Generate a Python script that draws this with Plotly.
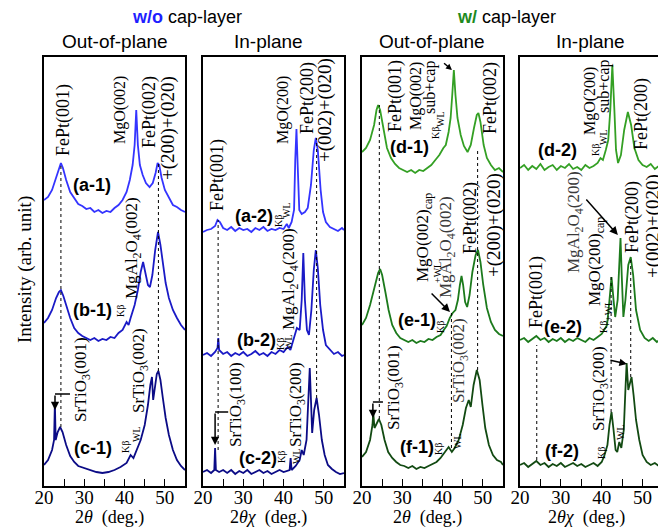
import plotly.graph_objects as go

# The page body has an 8 px default margin, so the figure is sized to fill the rest.
OFF = 8
W, H = 666, 528
FW, FH = W - OFF, H - OFF

# ---------------- data (angle in deg, intensity in arb. units) ----------------
a1_x = [20,21,22,23,23.7,24.2,24.7,25.5,26.5,27.5,28.5,29.5,30.5,31.5,32.5,33.5,34.5,35.5,36.5,37.5,38.5,39.5,40.5,41.3,42,42.5,42.9,43.3,43.8,44.5,45.3,46.2,47,47.7,48.2,48.6,49.2,50,51,52,53,54,55]
a1_y = [286,289,296,308,318,323,318,306,294,288,282,280,277,278,274,276,273,275,274,278,281,286,294,306,321,341,376,341,321,311,303,299,303,313,323,321,308,296,288,281,279,276,274]

b1_x = [20,21,22,23,23.7,24.2,24.8,25.5,26.5,27.5,28.5,29.5,30.5,31.5,32.5,33.5,34.5,35.5,36.5,37.5,38.5,39.5,40.5,41,41.5,42.5,43.3,44,44.6,45.2,45.8,46.3,46.9,47.6,48.3,48.9,49.5,50.2,51,52,53,54,55]
b1_y = [163,168,176,188,194,196,190,181,168,158,153,150,148,146,148,145,147,146,149,148,153,156,164,161,168,181,196,214,224,214,201,199,211,236,254,241,221,203,188,176,168,161,156]

c1_x = [20,21,22,22.5,22.7,22.9,23.4,24,24.6,25.5,26.5,27.5,28.5,30,31.5,33,34.5,36,37.5,39,40.5,41.5,42.2,43,44,45,45.8,46.4,46.8,47.1,47.5,48,48.4,48.9,49.5,50.2,51,52,53,54,55]
c1_y = [21,26,36,46,83,46,54,59,54,41,30,24,20,18,16,14,13,14,16,19,23,31,28,36,46,61,81,101,109,86,96,112,115,106,88,68,51,36,26,20,16]

a2_x = [20,21,22,23,23.6,24.2,25,26,27,28,29,30,31,32,33,34,35,36,37,38,39,40,40.8,41.3,42,42.6,42.9,43.2,43.5,43.9,44.5,45.3,46,46.8,47.5,48,48.5,49.2,49.8,50.5,51.5,52.5,53.5,54.5,55]
a2_y = [254,256,257,260,266,264,258,256,259,255,258,256,257,254,258,256,259,255,257,256,258,257,262,258,264,276,326,357,321,276,272,274,278,301,336,348,336,296,274,264,259,257,255,258,256]

b2_x = [20,21,22,23,23.6,23.8,24,25,26,27,28,29,30,31,32,33,34,35,36,37,38,39,40,41,41.7,42.5,43.3,44,44.5,44.9,45.3,45.8,46.3,46.9,47.5,48,48.5,49.1,49.8,50.5,51.5,52.5,53.5,54.5,55]
b2_y = [131,133,130,134,138,148,136,132,134,130,133,131,134,130,132,135,131,133,130,134,132,136,134,139,136,146,158,156,186,233,186,156,151,176,216,236,218,181,156,141,136,132,134,130,131]

c2_x = [20,21,22,22.8,23,23.2,24,25,26,27,28,29,30,31,32,33,34,35,36,37,38,39,40,41.5,41.75,42,43,44,44.5,45,45.7,46.2,46.5,46.8,47.1,47.6,48.2,48.8,49.5,50.2,51,52,53,54,55]
c2_y = [14,16,13,16,38,16,14,16,13,16,12,15,13,16,12,14,16,13,15,12,14,16,14,16,28,16,20,26,36,31,46,86,118,86,53,76,88,71,46,31,21,17,14,12,13]

d1_x = [20,20.5,21,22,23,23.6,24,24.5,25.3,26.2,27.2,28.2,29.2,30.2,31.2,32.2,33.2,34.2,35.2,36.2,37.2,38.2,39.2,40.2,40.8,41.5,42,42.4,42.8,43.2,43.7,44.5,45.3,46.2,47,47.8,48.5,48.9,49.4,50.2,51,52,53,54,55]
d1_y = [334,336,338,346,361,376,381,376,356,338,328,322,318,316,314,316,313,316,315,318,321,326,331,338,341,354,368,391,416,391,368,351,340,334,341,358,371,373,364,341,328,321,316,318,314]

e1_x = [20,21,22,23,24,24.5,25,25.8,26.6,27.5,28.5,29.5,30.5,31.5,32.5,33.5,34.5,35.5,36.5,37.5,38.5,39.5,40.3,41,41.8,42.5,43.2,43.8,44.3,44.7,45.1,45.6,46.1,46.7,47.4,48.2,48.8,49.4,50.1,51,52,53,54,55]
e1_y = [161,168,181,196,213,217,211,194,176,161,153,148,146,144,146,143,145,144,147,146,149,151,156,160,168,173,176,186,201,210,201,184,179,191,214,231,236,224,201,178,164,156,152,150]

f1_x = [20,21,22,22.6,22.8,23.1,23.6,24.2,24.8,25.6,26.5,27.5,28.5,29.5,30.5,31.5,32.5,33.5,34.5,35.5,36.5,37.5,38.5,39.5,40.5,41.5,42.3,43,44,45,45.8,46.5,47,47.7,48.5,49.2,49.9,50.6,51.5,52.5,53.5,54.5,55]
f1_y = [29,34,46,61,73,58,62,67,61,46,34,28,24,21,20,18,20,17,19,18,20,22,24,28,34,39,34,38,46,61,78,86,79,101,116,106,81,58,41,31,26,24,21]

d2_x = [20,21,22,23,24,25,26,27,28,29,30,31,32,33,34,35,36,37,38,39,39.7,40.3,41,41.6,42.1,42.6,43.1,43.5,44,44.7,45.5,46.4,47.2,48,49,50,51,52,53,54,55]
d2_y = [318,321,316,320,317,322,316,319,321,316,320,318,322,317,319,316,321,318,320,323,328,326,336,346,376,421,376,336,323,331,356,374,361,338,326,321,319,322,317,320,318]

e2_x = [20,21,22,23,24,25,26,27,28,29,30,31,32,33,34,35,36,37,38,39,40,40.6,41.3,41.9,42.4,42.9,43.3,43.9,44.3,44.6,44.9,45.3,45.8,46.5,47.1,47.7,48.4,49.4,50.5,51.5,52.5,53.5,54.5,55]
e2_y = [146,148,144,147,150,146,148,144,147,145,148,144,147,145,148,146,144,148,146,149,152,156,161,186,209,186,169,186,221,248,211,169,186,221,229,211,176,156,148,145,148,144,147,146]

f2_x = [20,21,22,23,24,25,26,27,28,29,30,31,32,33,34,35,36,37,38,39,40,40.7,41.4,41.9,42.4,42.9,43.4,43.8,44.3,44.8,45.4,45.8,46.1,46.5,46.9,47.3,47.8,48.4,49.2,50,51,52,53,54,55]
f2_y = [21,23,19,22,25,21,23,19,22,20,23,19,21,23,20,22,19,21,23,20,24,31,41,61,74,56,36,34,44,38,56,96,123,96,104,109,91,66,46,31,24,21,23,20,22]

x_ticks = [20, 30, 40, 50]
x_range = [20, 55]
y_range = [0, 429]

# ---------------- styling ----------------
BLUE = ['#3434ff', '#1a1ac6', '#0b0b86']
GREEN = ['#34a024', '#1c7a1c', '#124a12']
SERIF = 'Liberation Serif, Times New Roman, serif'
SANS = 'Liberation Sans, Arial, sans-serif'

panels = [(44, 185), (203, 344), (362, 503), (520, 663)]
ytop, ybot = 57, 486

def px_x(px):
    return (px - OFF) / FW

def px_y(py):
    return 1 - (py - OFF) / FH

fig = go.Figure()

series = [
    (1, a1_x, a1_y, BLUE[0]), (1, b1_x, b1_y, BLUE[1]), (1, c1_x, c1_y, BLUE[2]),
    (2, a2_x, a2_y, BLUE[0]), (2, b2_x, b2_y, BLUE[1]), (2, c2_x, c2_y, BLUE[2]),
    (3, d1_x, d1_y, GREEN[0]), (3, e1_x, e1_y, GREEN[1]), (3, f1_x, f1_y, GREEN[2]),
    (4, d2_x, d2_y, GREEN[0]), (4, e2_x, e2_y, GREEN[1]), (4, f2_x, f2_y, GREEN[2]),
]
for p, xs, ys, col in series:
    sfx = '' if p == 1 else str(p)
    fig.add_trace(go.Scatter(x=xs, y=ys, mode='lines', line=dict(color=col, width=1.8),
                             xaxis='x' + sfx, yaxis='y' + sfx, showlegend=False, hoverinfo='skip'))

layout = dict(width=FW, height=FH, margin=dict(l=0, r=0, t=0, b=0),
              paper_bgcolor='white', plot_bgcolor='white', showlegend=False)
for i, (l, r) in enumerate(panels):
    sfx = '' if i == 0 else str(i + 1)
    layout['xaxis' + sfx] = dict(
        domain=[px_x(l), px_x(r)], range=x_range, anchor='y' + sfx,
        tickvals=x_ticks, ticks='inside', ticklen=7, tickwidth=1.3, tickcolor='black',
        minor=dict(dtick=5, tick0=20, ticks='inside', ticklen=7, tickwidth=1.3, tickcolor='black'),
        showline=True, linecolor='black', linewidth=1.5, mirror=True, showgrid=False, zeroline=False,
        tickfont=dict(family=SERIF, size=19, color='black'), ticklabelstandoff=-7,
        automargin=False)
    layout['yaxis' + sfx] = dict(
        domain=[px_y(ybot), px_y(ytop)], range=y_range, anchor='x' + sfx,
        showticklabels=False, ticks='', showline=True, linecolor='black', linewidth=1.5,
        mirror=True, showgrid=False, zeroline=False, automargin=False)
fig.update_layout(**layout)

# ---------------- dotted reference lines (deg, intensity) ----------------
dotted = [
    (1, 24.2, 59, 323), (1, 48.4, 115, 323),
    (2, 23.75, 36, 266), (2, 48.2, 88, 348),
    (3, 24.3, 67, 381), (3, 48.7, 116, 336), (3, 42.2, 38, 173),
    (4, 24.1, 26, 141), (4, 42.3, 74, 209), (4, 47.1, 109, 229),
]
for p, xv, y0, y1 in dotted:
    sfx = '' if p == 1 else str(p)
    fig.add_shape(type='line', xref='x' + sfx, yref='y' + sfx, x0=xv, x1=xv, y0=y0, y1=y1,
                  line=dict(color='black', width=1, dash='dot'))

# bracket arrows for substrate peaks: (panel, x_start, x_corner, y_level, y_head)
brackets = [(1, 26.45, 22.73, 92, 76), (2, 26.25, 23.0, 74, 41), (3, 25.2, 22.7, 84, 68)]
for p, xs, xc, yl, yh in brackets:
    sfx = '' if p == 1 else str(p)
    fig.add_shape(type='line', xref='x' + sfx, yref='y' + sfx, x0=xs, x1=xc, y0=yl, y1=yl,
                  line=dict(color='black', width=1.5))
    fig.add_annotation(xref='x' + sfx, yref='y' + sfx, axref='x' + sfx, ayref='y' + sfx,
                       x=xc, y=yh, ax=xc, ay=yl, text='', showarrow=True,
                       arrowhead=2, arrowsize=1.1, arrowwidth=1.5, arrowcolor='black')

# pointer arrows: (panel, tail_x, tail_y, head_x, head_y, size)
pointers = [(3, 40.0, 424, 42.33, 416, 0.8), (3, 36.9, 194, 41.84, 174, 1.1),
            (4, 35.9, 288, 43.96, 251, 1.1), (4, 41.76, 126, 46.16, 122, 1.0)]
for p, tx, ty, hx, hy, sz in pointers:
    sfx = '' if p == 1 else str(p)
    fig.add_annotation(xref='x' + sfx, yref='y' + sfx, axref='x' + sfx, ayref='y' + sfx,
                       x=hx, y=hy, ax=tx, ay=ty, text='', showarrow=True,
                       arrowhead=2, arrowsize=sz, arrowwidth=1.5, arrowcolor='black')

# ---------------- text labels (pixel centres in the 666x528 window) ----------------
def label(text, cx, cy, size=17, angle=-90, family=SERIF, color='black'):
    fig.add_annotation(xref='paper', yref='paper', x=px_x(cx), y=px_y(cy), text=text,
                       showarrow=False, textangle=angle, xanchor='center', yanchor='middle',
                       font=dict(family=family, size=size, color=color))

def tag(text, cx, cy):
    label('<b>' + text + '</b>', cx, cy, size=18, angle=0, family=SANS)

MAO = 'MgAl<sub>2</sub>O<sub>4</sub>'
STO = 'SrTiO<sub>3</sub>'
GREY = '#3a3a3a'

# titles
label('<b><span style="color:#1f1fff">w/o</span></b> cap-layer', 187, 17, 18, 0, SANS)
label('<b><span style="color:#1e8a1e">w/</span></b> cap-layer', 506, 17, 18, 0, SANS)
label('Out-of-plane', 115, 42, 19, 0, SANS)
label('In-plane', 268, 42, 19, 0, SANS)
label('Out-of-plane', 432, 42, 19, 0, SANS)
label('In-plane', 590, 42, 19, 0, SANS)
label('Intensity (arb. unit)', 25, 270, 19, -90, SERIF)

# x-axis titles
for i, (l, r) in enumerate(panels):
    t = '2<i>θ</i>  (deg.)' if i in (0, 2) else '2<i>θχ</i>  (deg.)'
    label(t, (l + r) / 2 - 5, 517, 18, 0, SERIF)

# panel 1
label('FePt(001)', 63, 120, 18)
label('MgO(002)', 120, 110, 16)
label('FePt(002)', 150, 112, 18)
label('+(200)+(020)', 168, 128, 19)
tag('(a-1)', 92, 185)
tag('(b-1)', 92, 310)
label('Kβ', 120, 311, 10)
label(MAO + '(002)', 133, 248, 17)
tag('(c-1)', 93, 448)
label('Kβ', 125, 447, 10)
label('WL', 136, 434, 10)
label(STO + '(001)', 82, 380, 17)
label(STO + '(002)', 140, 371, 17)

# panel 2
label('FePt(001)', 218, 175, 18)
label('MgO(200)', 283, 110, 16)
label('FePt(200)', 307, 98, 18)
label('+(002)+(020)', 325, 110, 19)
tag('(a-2)', 254, 216)
label('Kβ', 278, 221, 10)
label('WL', 287, 210, 10)
label(MAO + '(200)', 290, 279, 17)
tag('(b-2)', 256, 340)
label('Kβ', 280, 344, 10)
label('WL', 288, 342, 10)
label(STO + '(100)', 237, 405, 17)
tag('(c-2)', 258, 458)
label('Kβ', 281, 457, 10)
label('WL', 296, 456, 10)
label(STO + '(200)', 297, 405, 17)

# panel 3
label('FePt(001)', 395, 96, 18)
label('MgO(002)', 416, 96, 16)
label('sub+cap', 430, 88, 16)
label('WL', 440, 119, 10)
label('Kβ', 435, 133, 10)
tag('(d-1)', 410, 147)
label('FePt(002)', 490, 98, 18)
label('MgO(002)<sub>cap</sub>', 424, 238, 17)
label('+WL', 437, 273, 10)
label(MAO + '(002)', 447, 247, 17, color=GREY)
label('FePt(002)', 470, 218, 18)
label('+(200)+(020)', 494, 225, 19)
tag('(e-1)', 417, 320)
label('Kβ', 440, 327, 10)
label(STO + '(001)', 395, 388, 17)
tag('(f-1)', 417, 447)
label('Kβ', 438, 449, 10)
label('WL', 457, 441, 10)
label(STO + '(002)', 460, 361, 17, color=GREY)

# panel 4
label('MgO(200)', 590, 101, 16)
label('sub+cap', 604, 87, 16)
label('WL', 603, 137, 10)
label('Kβ', 596, 150, 10)
tag('(d-2)', 557, 150)
label('FePt(200)', 642, 114, 18)
label(MAO + '(200)', 575, 222, 17, color=GREY)
label('MgO(200)<sub>cap</sub>', 596, 262, 17)
label('+WL', 608, 311, 10)
label('Kβ', 603, 327, 10)
tag('(e-2)', 563, 327)
label('FePt(001)', 536, 292, 18)
label('FePt(200)', 632, 217, 18)
label('+(002)+(020)', 653, 226, 19)
label(STO + '(200)', 600, 389, 17)
label('WL', 620, 432, 10)
label('Kβ', 601, 453, 10)
tag('(f-2)', 562, 451)

fig.write_html('out.html')
